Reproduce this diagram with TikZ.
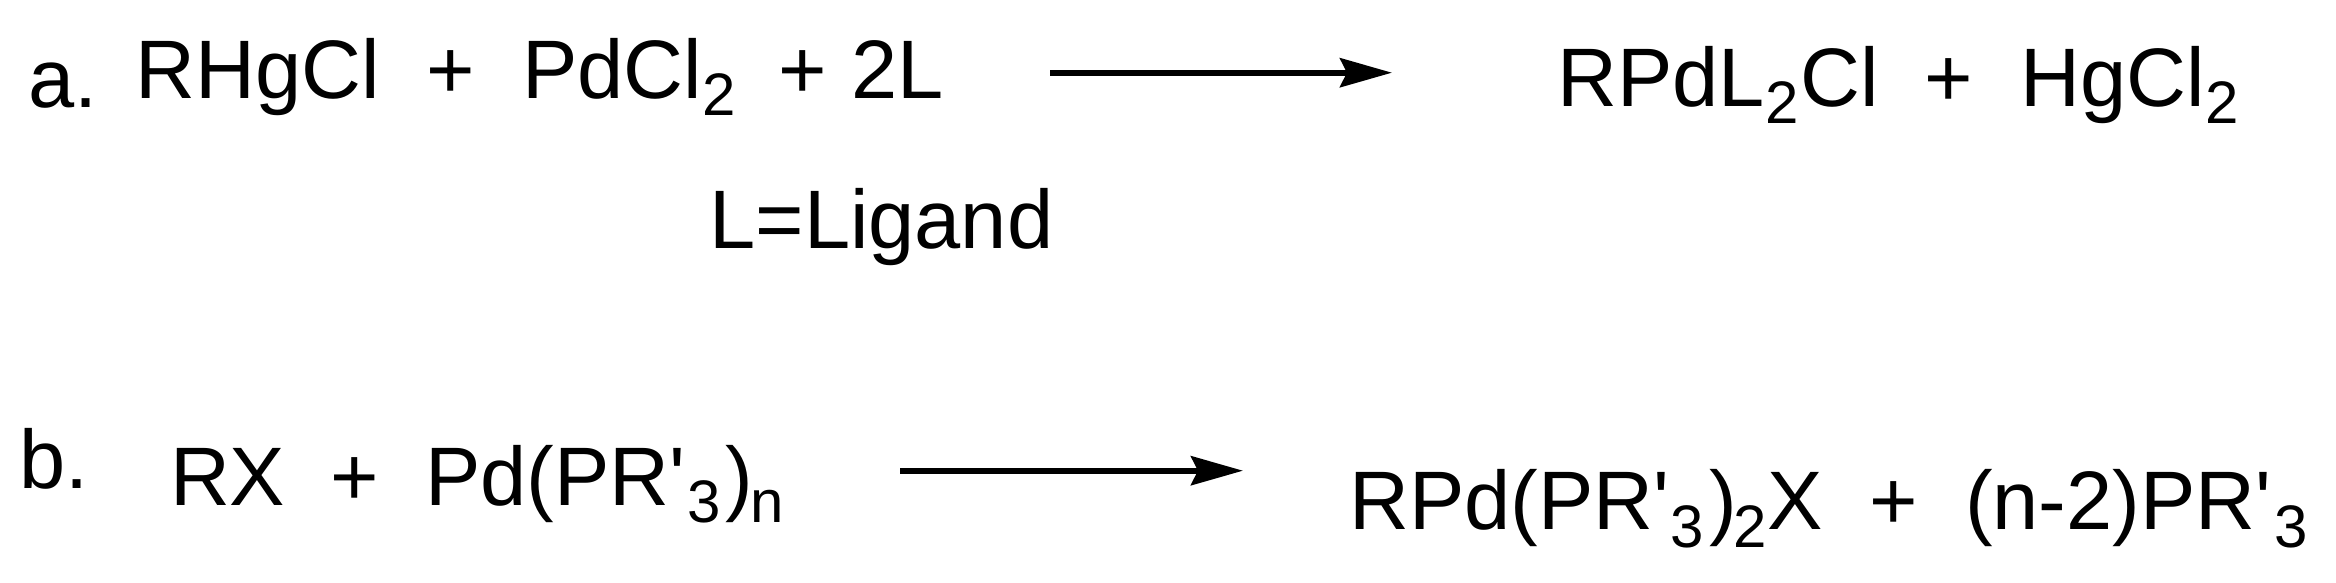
\documentclass[tikz,border=0pt]{standalone}
\usepackage{fontspec}
\newfontfamily\chemfont{Liberation Sans}
\usetikzlibrary{arrows.meta}
% \chemsub[drop]{kern before}{kern after}{text}
\newcommand{\chemsub}[4][16.5pt]{\kern#2\raisebox{-#1}{\fontsize{60pt}{60pt}\selectfont #4}\kern#3}
\tikzset{
  chem/.style={anchor=base west,inner sep=0pt,outer sep=0pt,font=\chemfont\fontsize{83pt}{83pt}\selectfont},
  plus/.style={anchor=base,inner sep=0pt,outer sep=0pt,font=\chemfont\fontsize{83pt}{83pt}\selectfont},
  rxn/.style={line width=6pt,-{Stealth[length=52pt,width=29pt,inset=7pt]}}
}
\begin{document}
\begin{tikzpicture}[x=1pt,y=-1pt]
\useasboundingbox (0,0) rectangle (2336,583);
% reaction a
\node[chem] (la) at (28.7,107.3) {a.};
\node[chem] (hg) at (135.8,99) {RHgCl};
\node[plus] (p1) at (450.7,99) {+};
\node[chem] (pd) at (522,99) {PdCl\chemsub{1pt}{0pt}{2}};
\node[plus] (p2) at (802.3,99) {+};
\node[chem] (twol) at (851,99) {2L};
\node[chem] (lig) at (709.5,248) {L=Ligand};
\coordinate (a1) at (1050,72.7);
\coordinate (a2) at (1392,72.7);
\draw[rxn] (a1) -- (a2);
\node[chem] (rpd) at (1557.5,106.7) {RPdL\chemsub{0pt}{1.6pt}{2}Cl};
\node[plus] (p3) at (1949,106.7) {+};
\node[chem] (hgcl) at (2020.7,106.7) {HgCl\chemsub{0.7pt}{0pt}{2}};
% reaction b
\node[chem] (lb) at (19,488) {b.};
\node[chem] (rx) at (170,505) {RX};
\node[plus] (p4) at (355,505) {+};
\node[chem] (pdn) at (425.3,505) {Pd(PR'\chemsub[17.3pt]{2pt}{4.6pt}{3})\chemsub[17.3pt]{-3pt}{0pt}{n}};
\coordinate (b1) at (900,470.7);
\coordinate (b2) at (1243,470.7);
\draw[rxn] (b1) -- (b2);
\node[chem] (rpdx) at (1349.5,529.3) {RPd(PR'\chemsub[18pt]{1pt}{5.5pt}{3})\chemsub[18pt]{-4pt}{1pt}{2}X};
\node[plus] (p5) at (1894,529.3) {+};
\node[chem] (npr) at (1965,529.3) {(n-2)PR'\chemsub[18pt]{3pt}{0pt}{3}};
\end{tikzpicture}
\end{document}
